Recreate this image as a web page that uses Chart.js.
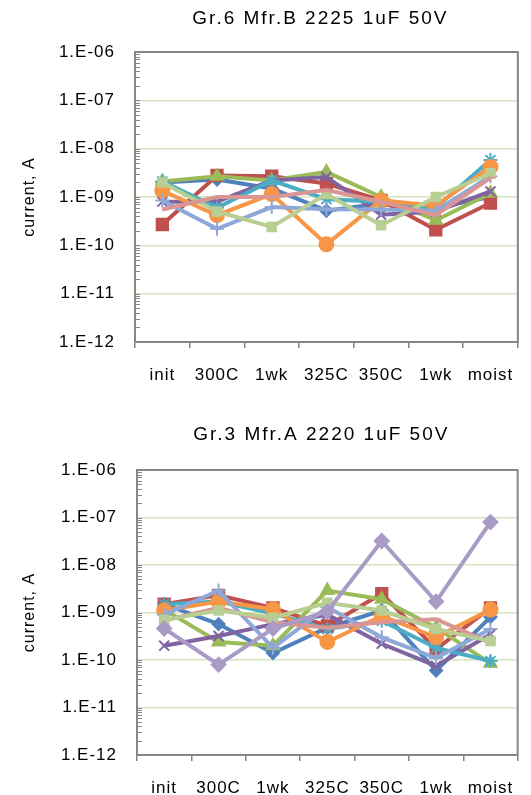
<!DOCTYPE html>
<html>
<head>
<meta charset="utf-8">
<script src="https://cdn.jsdelivr.net/npm/chart.js@4.4.0/dist/chart.umd.min.js"></script>
<style>
  html, body { margin: 0; padding: 0; background: #fff; }
  .box { position: relative; width: 531px; }
</style>
</head>
<body>
<div class="box" style="height:398px"><canvas id="canvas1"></canvas></div>
<div class="box" style="height:397px"><canvas id="canvas2"></canvas></div>
<script>
const labels = ['init', '300C', '1wk', '325C', '350C', '1wk', 'moist']
const decades = [-12, -11, -10, -9, -8, -7, -6]

// Gr.6 Mfr.B 2225 1uF 50V
const topBlue    = [2.0e-9, 2.3e-9, 1.5e-9, 5.2e-10, 7.3e-10, 6.0e-10, 1.0e-9]
const topRed     = [2.7e-10, 2.8e-9, 2.7e-9, 1.9e-9, 8.5e-10, 2.1e-10, 7.5e-10]
const topGreen   = [2.1e-9, 2.7e-9, 2.2e-9, 3.3e-9, 1.0e-9, 3.3e-10, 1.2e-9]
const topPurple  = [8.0e-10, 8.0e-10, 2.2e-9, 2.6e-9, 4.3e-10, 5.0e-10, 1.3e-9]
const topTeal    = [2.1e-9, 6.0e-10, 2.2e-9, 9.0e-10, 8.0e-10, 6.0e-10, 5.8e-9]
const topOrange  = [1.35e-9, 4.2e-10, 1.15e-9, 1.05e-10, 8.5e-10, 6.6e-10, 4.2e-9]
const topLtBlue  = [8.5e-10, 2.2e-10, 6.2e-10, 5.6e-10, 5.5e-10, 5.2e-10, 2.7e-9]
const topLtGreen = [2.0e-9, 5.0e-10, 2.4e-10, 1.15e-9, 2.6e-10, 1.0e-9, 3.1e-9]
const topPink    = [5.5e-10, 1.0e-9, 1.0e-9, 1.4e-9, 8.0e-10, 4.2e-10, 2.5e-9]

// Gr.3 Mfr.A 2220 1uF 50V
const botBlue    = [1.5e-9, 5.7e-10, 1.4e-10, 4.8e-10, 1.1e-9, 6.0e-11, 8.0e-10]
const botRed     = [1.5e-9, 2.3e-9, 1.25e-9, 5.2e-10, 2.5e-9, 1.7e-10, 1.25e-9]
const botGreen   = [1.15e-9, 2.4e-10, 2.0e-10, 2.9e-9, 1.9e-9, 4.8e-10, 8.5e-11]
const botPurple  = [2.0e-10, 3.2e-10, 5.7e-10, 9.0e-10, 2.2e-10, 7.5e-11, 3.5e-10]
const botTeal    = [1.5e-9, 1.7e-9, 9.5e-10, 4.5e-10, 6.7e-10, 1.8e-10, 9.5e-11]
const botOrange  = [1.1e-9, 1.7e-9, 1.17e-9, 2.4e-10, 8.5e-10, 3.0e-10, 1.15e-9]
const botLtBlue  = [9.0e-10, 2.9e-9, 1.8e-10, 1.3e-9, 3.0e-10, 1.1e-10, 4.5e-10]
const botPink    = [6.8e-10, 1.25e-9, 6.2e-10, 4.8e-10, 6.2e-10, 7.2e-10, 2.3e-10]
const botLtGreen = [7.0e-10, 1.1e-9, 7.8e-10, 1.6e-9, 1.1e-9, 4.5e-10, 2.5e-10]
const botLav     = [4.6e-10, 8.0e-11, 4.6e-10, 1.05e-9, 3.2e-8, 1.7e-9, 8.0e-8]

const font = '"Liberation Sans", Arial, sans-serif'

function series(data, color, style, radius) {
    return {
        data: data,
        borderColor: color,
        backgroundColor: color,
        borderWidth: 4,
        pointStyle: style,
        pointRadius: radius,
        pointBorderWidth: 2,
        tension: 0,
    }
}

// border box, inner minor ticks on the log axis, and the title
const frame = {
    id: 'frame',
    beforeLayout(chart) { chart.ctx.letterSpacing = '1px' },
    beforeDraw(chart) { chart.ctx.letterSpacing = '1px' },
    beforeDatasetsDraw(chart) {
        const ctx = chart.ctx
        const a = chart.chartArea
        const y = chart.scales.y
        ctx.save()
        ctx.strokeStyle = '#868686'
        ctx.lineWidth = 1.2
        ctx.beginPath()
        for (let e = -12; e < -6; e++) {
            for (let m = 1; m < 10; m++) {
                const py = Math.round(y.getPixelForValue(m * Math.pow(10, e))) + 0.5
                ctx.moveTo(a.left, py)
                ctx.lineTo(a.left + 5, py)
            }
        }
        ctx.stroke()
        ctx.lineWidth = 2
        ctx.strokeRect(a.left, a.top, a.right - a.left, a.bottom - a.top)
        ctx.restore()
    },
    afterDraw(chart, args, opts) {
        const ctx = chart.ctx
        const a = chart.chartArea
        ctx.save()
        ctx.letterSpacing = '2px'
        ctx.font = '19px ' + font
        ctx.fillStyle = '#000'
        ctx.textAlign = 'center'
        ctx.textBaseline = 'middle'
        ctx.fillText(opts.text, (a.left + a.right) / 2 - 6, opts.y)
        ctx.restore()
    }
}

function makeChart(id, title, titleY, datasets, box) {
    datasets.forEach((d, i) => { d.order = -i })
    return new Chart(document.getElementById(id), {
        type: 'line',
        data: { labels: labels, datasets: datasets },
        options: {
            responsive: true,
            maintainAspectRatio: false,
            animation: false,
            layout: { padding: { top: box.top, right: box.right, bottom: 0, left: 0 } },
            plugins: {
                legend: { display: false },
                tooltip: { enabled: false },
                frame: { text: title, y: titleY },
            },
            scales: {
                x: {
                    offset: true,
                    grid: { offset: true, drawOnChartArea: false, drawTicks: true, tickLength: 6, color: '#868686', lineWidth: 1.5 },
                    border: { display: false },
                    ticks: { color: '#000', font: { family: font, size: 17 }, padding: 17, maxRotation: 0, autoSkip: false },
                    afterFit(s) { s.height = box.xh },
                },
                y: {
                    type: 'logarithmic',
                    min: 1e-12,
                    max: 1e-6,
                    afterBuildTicks(s) { s.ticks = decades.map(e => ({ value: Math.pow(10, e) })) },
                    grid: { color: '#D7E4BD', lineWidth: 1.5, drawTicks: false },
                    border: { display: false },
                    ticks: {
                        color: '#000',
                        font: { family: font, size: 17 },
                        padding: 20,
                        callback: v => '1.E-' + String(-Math.round(Math.log10(v))).padStart(2, '0'),
                    },
                    title: { display: true, text: 'current, A', color: '#000', font: { family: font, size: 16 }, padding: { top: 20, bottom: 0 } },
                    afterFit(s) { s.width = box.left },
                },
            },
        },
        plugins: [frame],
    })
}

makeChart('canvas1', 'Gr.6 Mfr.B 2225 1uF 50V', 19, [
    series(topBlue, '#4F81BD', 'rectRot', 6),
    series(topRed, '#C0504D', 'rect', 8),
    series(topGreen, '#9BBB59', 'triangle', 7),
    series(topPurple, '#8064A2', 'crossRot', 7),
    series(topTeal, '#4BACC6', 'star', 7),
    series(topOrange, '#F79646', 'circle', 7),
    series(topLtBlue, '#8EA9D9', 'cross', 7),
    series(topLtGreen, '#B8CE93', 'rect', 6),
    series(topPink, '#D99694', 'dash', 5),
], { top: 52, right: 4, left: 135, xh: 56 })

makeChart('canvas2', 'Gr.3 Mfr.A 2220 1uF 50V', 37, [
    series(botBlue, '#4F81BD', 'rectRot', 6),
    series(botRed, '#C0504D', 'rect', 8),
    series(botGreen, '#9BBB59', 'triangle', 7),
    series(botPurple, '#8064A2', 'crossRot', 7),
    series(botTeal, '#4BACC6', 'star', 7),
    series(botOrange, '#F79646', 'circle', 7),
    series(botLtBlue, '#8EA9D9', 'cross', 7),
    series(botPink, '#D99694', 'dash', 5),
    series(botLtGreen, '#B8CE93', 'rect', 6),
    series(botLav, '#A99BC6', 'rectRot', 7),
], { top: 72, right: 10, left: 137, xh: 40 })
</script>
</body>
</html>
